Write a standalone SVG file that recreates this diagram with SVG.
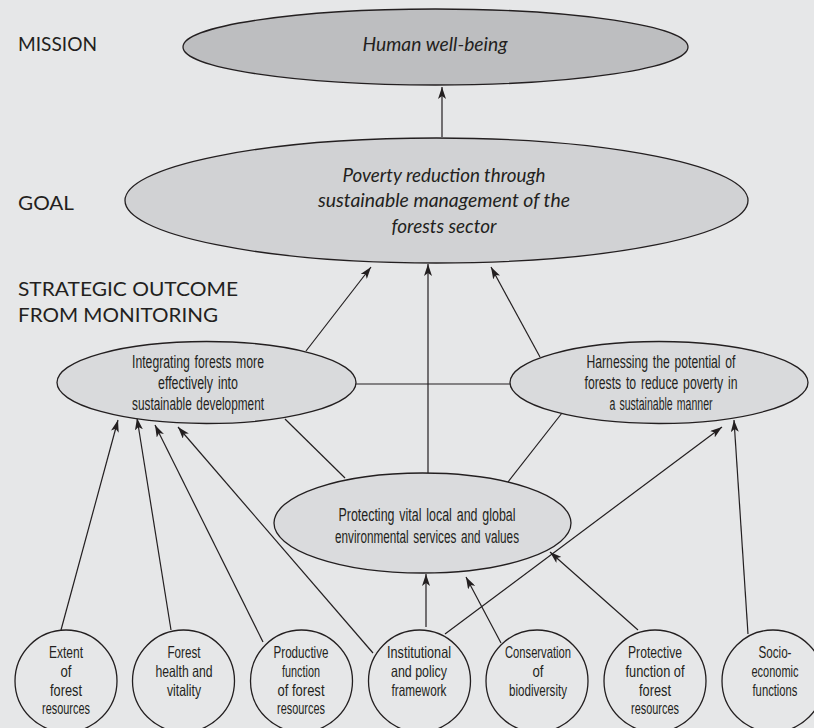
<svg xmlns="http://www.w3.org/2000/svg" width="814" height="728" viewBox="0 0 814 728">
<defs>
<marker id="ah" markerWidth="13" markerHeight="8" refX="12" refY="4" orient="auto" markerUnits="userSpaceOnUse">
<path d="M0,0 L12,4 L0,8 L3,4 z" fill="#231f20"/>
</marker>
<style>
.bg{fill:#e6e7e8}
.node{stroke:#231f20;stroke-width:1.3}
.lbl{font-family:Lato,"Open Sans","Liberation Sans",sans-serif;font-size:19px;fill:#231f20}
.it{font-family:Lato,"Open Sans","Liberation Sans",sans-serif;font-style:italic;font-size:19px;fill:#231f20;text-anchor:middle}
.cn{font-family:"Liberation Sans",Arial,sans-serif;font-size:17.5px;fill:#231f20;text-anchor:middle;word-spacing:2px}
.cs{font-family:"Liberation Sans",Arial,sans-serif;font-size:16.5px;fill:#231f20;text-anchor:middle}
.con line{stroke:#231f20;stroke-width:1.2;fill:none}
.arr{marker-end:url(#ah)}
</style>
</defs>
<rect class="bg" x="0" y="0" width="814" height="728"/>

<g id="labels">
<text class="lbl" x="18" y="51" textLength="79" lengthAdjust="spacingAndGlyphs">MISSION</text>
<text class="lbl" x="18" y="210" textLength="56" lengthAdjust="spacingAndGlyphs">GOAL</text>
<text class="lbl" x="18" y="296" textLength="220" lengthAdjust="spacingAndGlyphs">STRATEGIC OUTCOME</text>
<text class="lbl" x="18" y="322" textLength="200" lengthAdjust="spacingAndGlyphs">FROM MONITORING</text>
</g>

<g class="con">
<line class="arr" x1="442" y1="137" x2="442" y2="87"/>
<line class="arr" x1="306" y1="351" x2="371" y2="267"/>
<line class="arr" x1="428" y1="473" x2="428" y2="264"/>
<line class="arr" x1="540" y1="357" x2="491" y2="267"/>
<line x1="356" y1="384" x2="510" y2="384"/>
<line x1="345" y1="478" x2="285" y2="419"/>
<line x1="508" y1="482" x2="562" y2="413"/>
<line class="arr" x1="61" y1="630" x2="118" y2="420"/>
<line class="arr" x1="171" y1="630" x2="137" y2="418"/>
<line class="arr" x1="263" y1="642" x2="155" y2="425"/>
<line class="arr" x1="373" y1="653" x2="178" y2="427"/>
<line class="arr" x1="445" y1="634" x2="722" y2="427"/>
<line class="arr" x1="426" y1="627" x2="426" y2="574"/>
<line class="arr" x1="501" y1="643" x2="466" y2="577"/>
<line class="arr" x1="638" y1="630" x2="550" y2="552"/>
<line class="arr" x1="748" y1="634" x2="734" y2="420"/>
</g>

<g id="mission">
<ellipse class="node" cx="435.5" cy="47" rx="252.5" ry="38" fill="#bdbec0"/>
<text class="it" x="435" y="51" textLength="145" lengthAdjust="spacingAndGlyphs">Human well-being</text>
</g>

<g id="goal">
<ellipse class="node" cx="436.5" cy="200.5" rx="311.5" ry="62.5" fill="#d1d2d4"/>
<text class="it" x="444" y="182" textLength="203" lengthAdjust="spacingAndGlyphs">Poverty reduction through</text>
<text class="it" x="444" y="207" textLength="252" lengthAdjust="spacingAndGlyphs">sustainable management of the</text>
<text class="it" x="444" y="233" textLength="105" lengthAdjust="spacingAndGlyphs">forests sector</text>
</g>

<g id="integrating">
<ellipse class="node" cx="206.5" cy="382.5" rx="149.5" ry="41" fill="#d9dadc"/>
<text class="cn" x="198" y="368" textLength="132" lengthAdjust="spacingAndGlyphs">Integrating forests more</text>
<text class="cn" x="198" y="389" textLength="80" lengthAdjust="spacingAndGlyphs">effectively into</text>
<text class="cn" x="198" y="410" textLength="132" lengthAdjust="spacingAndGlyphs">sustainable development</text>
</g>

<g id="harnessing">
<ellipse class="node" cx="659" cy="382.5" rx="149" ry="41" fill="#d9dadc"/>
<text class="cn" x="661" y="368" textLength="149" lengthAdjust="spacingAndGlyphs">Harnessing the potential of</text>
<text class="cn" x="661" y="389" textLength="153" lengthAdjust="spacingAndGlyphs">forests to reduce poverty in</text>
<text class="cn" x="661" y="410" textLength="103" lengthAdjust="spacingAndGlyphs">a sustainable manner</text>
</g>

<g id="protecting">
<ellipse class="node" cx="422.5" cy="523" rx="148.5" ry="50" fill="#dadbdd"/>
<text class="cn" x="427" y="521" textLength="177" lengthAdjust="spacingAndGlyphs">Protecting vital local and global</text>
<text class="cn" x="427" y="543" textLength="184" lengthAdjust="spacingAndGlyphs">environmental services and values</text>
</g>

<g id="extent">
<ellipse class="node" cx="66" cy="681" rx="51" ry="51" fill="#e6e7e8"/>
<text class="cs" x="66" y="658" textLength="34" lengthAdjust="spacingAndGlyphs">Extent</text>
<text class="cs" x="66" y="677" textLength="11" lengthAdjust="spacingAndGlyphs">of</text>
<text class="cs" x="66" y="695.5" textLength="32" lengthAdjust="spacingAndGlyphs">forest</text>
<text class="cs" x="66" y="714" textLength="48" lengthAdjust="spacingAndGlyphs">resources</text>
</g>

<g id="health">
<ellipse class="node" cx="183.5" cy="681" rx="51" ry="51" fill="#e6e7e8"/>
<text class="cs" x="184" y="658" textLength="33" lengthAdjust="spacingAndGlyphs">Forest</text>
<text class="cs" x="184" y="677" textLength="57" lengthAdjust="spacingAndGlyphs">health and</text>
<text class="cs" x="184" y="695.5" textLength="34" lengthAdjust="spacingAndGlyphs">vitality</text>
</g>

<g id="productive">
<ellipse class="node" cx="301.5" cy="681" rx="51" ry="51" fill="#e6e7e8"/>
<text class="cs" x="301" y="658" textLength="55" lengthAdjust="spacingAndGlyphs">Productive</text>
<text class="cs" x="301" y="677" textLength="38" lengthAdjust="spacingAndGlyphs">function</text>
<text class="cs" x="301" y="695.5" textLength="47" lengthAdjust="spacingAndGlyphs">of forest</text>
<text class="cs" x="301" y="714" textLength="48" lengthAdjust="spacingAndGlyphs">resources</text>
</g>

<g id="institutional">
<ellipse class="node" cx="419.5" cy="681" rx="51" ry="51" fill="#e6e7e8"/>
<text class="cs" x="419" y="658" textLength="64" lengthAdjust="spacingAndGlyphs">Institutional</text>
<text class="cs" x="419" y="677" textLength="56" lengthAdjust="spacingAndGlyphs">and policy</text>
<text class="cs" x="419" y="695.5" textLength="55" lengthAdjust="spacingAndGlyphs">framework</text>
</g>

<g id="conservation">
<ellipse class="node" cx="537" cy="681" rx="51" ry="51" fill="#e6e7e8"/>
<text class="cs" x="538" y="658" textLength="66" lengthAdjust="spacingAndGlyphs">Conservation</text>
<text class="cs" x="538" y="677" textLength="11" lengthAdjust="spacingAndGlyphs">of</text>
<text class="cs" x="538" y="695.5" textLength="58" lengthAdjust="spacingAndGlyphs">biodiversity</text>
</g>

<g id="protective">
<ellipse class="node" cx="655" cy="681" rx="51" ry="51" fill="#e6e7e8"/>
<text class="cs" x="655" y="658" textLength="54" lengthAdjust="spacingAndGlyphs">Protective</text>
<text class="cs" x="655" y="677" textLength="59" lengthAdjust="spacingAndGlyphs">function of</text>
<text class="cs" x="655" y="695.5" textLength="32" lengthAdjust="spacingAndGlyphs">forest</text>
<text class="cs" x="655" y="714" textLength="48" lengthAdjust="spacingAndGlyphs">resources</text>
</g>

<g id="socio">
<ellipse class="node" cx="773" cy="681" rx="51" ry="51" fill="#e6e7e8"/>
<text class="cs" x="775" y="658" textLength="33" lengthAdjust="spacingAndGlyphs">Socio-</text>
<text class="cs" x="775" y="677" textLength="47" lengthAdjust="spacingAndGlyphs">economic</text>
<text class="cs" x="775" y="695.5" textLength="45" lengthAdjust="spacingAndGlyphs">functions</text>
</g>
</svg>
